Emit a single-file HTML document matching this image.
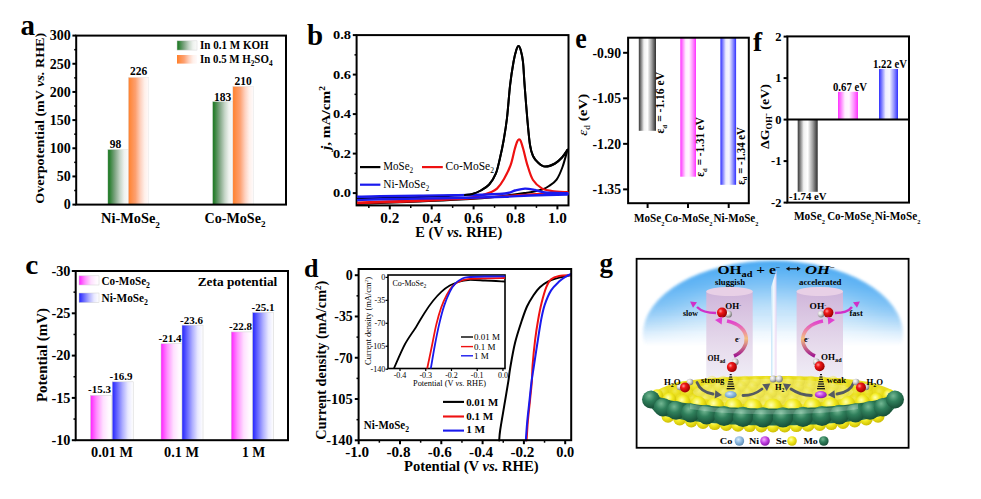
<!DOCTYPE html>
<html><head><meta charset="utf-8"><style>
html,body{margin:0;padding:0;background:#fff;width:981px;height:499px;overflow:hidden;}
svg{display:block;font-family:"Liberation Serif", serif;}
</style></head><body>
<svg width="981" height="499" viewBox="0 0 981 499" font-family="Liberation Serif">
<defs><linearGradient id="g1" x1="0" y1="0" x2="1" y2="0"><stop offset="0" stop-color="#1f7a25"/><stop offset="0.08" stop-color="#2a7f30"/><stop offset="0.35" stop-color="#7fa583"/><stop offset="0.6" stop-color="#c6d6c8"/><stop offset="0.8" stop-color="#eef2ee"/><stop offset="1" stop-color="#fafafa"/></linearGradient><linearGradient id="g2" x1="0" y1="0" x2="1" y2="0"><stop offset="0" stop-color="#ff7f2a"/><stop offset="0.1" stop-color="#ff8a40"/><stop offset="0.35" stop-color="#fda070"/><stop offset="0.6" stop-color="#fed2c0"/><stop offset="0.8" stop-color="#fff0ea"/><stop offset="1" stop-color="#fffafa"/></linearGradient><linearGradient id="g3" x1="0" y1="0" x2="1" y2="0"><stop offset="0" stop-color="#ff1fff"/><stop offset="0.3" stop-color="#ff90ff"/><stop offset="0.6" stop-color="#ffe0ff"/><stop offset="0.85" stop-color="#fff8ff"/><stop offset="1" stop-color="#ffffff"/></linearGradient><linearGradient id="g4" x1="0" y1="0" x2="1" y2="0"><stop offset="0" stop-color="#2222ff"/><stop offset="0.25" stop-color="#6a6aff"/><stop offset="0.5" stop-color="#b0b0ff"/><stop offset="0.75" stop-color="#e8e8ff"/><stop offset="1" stop-color="#ffffff"/></linearGradient><linearGradient id="g5" x1="0" y1="0" x2="1" y2="0"><stop offset="0" stop-color="#3a3a3a"/><stop offset="0.1" stop-color="#707070"/><stop offset="0.3" stop-color="#f0f0f0"/><stop offset="0.5" stop-color="#ffffff"/><stop offset="0.75" stop-color="#a0a0a0"/><stop offset="0.92" stop-color="#505050"/><stop offset="1" stop-color="#303030"/></linearGradient><linearGradient id="g6" x1="0" y1="0" x2="1" y2="0"><stop offset="0" stop-color="#ff30ff"/><stop offset="0.12" stop-color="#ff70ff"/><stop offset="0.35" stop-color="#fff0ff"/><stop offset="0.55" stop-color="#fff8ff"/><stop offset="0.8" stop-color="#ff90ff"/><stop offset="1" stop-color="#ff30ff"/></linearGradient><linearGradient id="g7" x1="0" y1="0" x2="1" y2="0"><stop offset="0" stop-color="#3030ff"/><stop offset="0.12" stop-color="#7070ff"/><stop offset="0.35" stop-color="#f0f0ff"/><stop offset="0.55" stop-color="#f8f8ff"/><stop offset="0.8" stop-color="#9090ff"/><stop offset="1" stop-color="#3030ff"/></linearGradient><linearGradient id="g8" x1="0" y1="0" x2="1" y2="0"><stop offset="0" stop-color="#3a3a3a"/><stop offset="0.1" stop-color="#707070"/><stop offset="0.3" stop-color="#f0f0f0"/><stop offset="0.5" stop-color="#ffffff"/><stop offset="0.75" stop-color="#a0a0a0"/><stop offset="0.92" stop-color="#505050"/><stop offset="1" stop-color="#303030"/></linearGradient><linearGradient id="g9" x1="0" y1="0" x2="1" y2="0"><stop offset="0" stop-color="#ff30ff"/><stop offset="0.12" stop-color="#ff70ff"/><stop offset="0.35" stop-color="#fff0ff"/><stop offset="0.55" stop-color="#fff8ff"/><stop offset="0.8" stop-color="#ff90ff"/><stop offset="1" stop-color="#ff30ff"/></linearGradient><linearGradient id="g10" x1="0" y1="0" x2="1" y2="0"><stop offset="0" stop-color="#3030ff"/><stop offset="0.12" stop-color="#7070ff"/><stop offset="0.35" stop-color="#f0f0ff"/><stop offset="0.55" stop-color="#f8f8ff"/><stop offset="0.8" stop-color="#9090ff"/><stop offset="1" stop-color="#3030ff"/></linearGradient><radialGradient id="dome" gradientUnits="userSpaceOnUse" cx="773" cy="336" r="128" gradientTransform="translate(773 336) scale(1 0.6) translate(-773 -336)"><stop offset="0" stop-color="#ffffff"/><stop offset="0.45" stop-color="#f4f9fe"/><stop offset="0.7" stop-color="#a9d6f7"/><stop offset="0.9" stop-color="#5cb2f2"/><stop offset="1" stop-color="#3fa2ee"/></radialGradient><linearGradient id="domefade" gradientUnits="userSpaceOnUse" x1="0" y1="300" x2="0" y2="345"><stop offset="0" stop-color="#fff" stop-opacity="1"/><stop offset="1" stop-color="#fff" stop-opacity="0"/></linearGradient><mask id="domemask"><rect x="600" y="250" width="350" height="150" fill="url(#domefade)"/></mask><linearGradient id="cyl" x1="0" y1="0" x2="0" y2="1"><stop offset="0" stop-color="#d8b2d6"/><stop offset="0.45" stop-color="#e0cfe6"/><stop offset="1" stop-color="#f0f0f8"/></linearGradient><linearGradient id="glass" x1="0" y1="0" x2="1" y2="0"><stop offset="0" stop-color="#bfe3f8"/><stop offset="0.5" stop-color="#ffffff"/><stop offset="1" stop-color="#e8d0f0"/></linearGradient><radialGradient id="red" cx="0.35" cy="0.35" r="0.65"><stop offset="0" stop-color="#ff9a9a"/><stop offset="0.35" stop-color="#f01818"/><stop offset="1" stop-color="#a00000"/></radialGradient><radialGradient id="gry" cx="0.35" cy="0.35" r="0.65"><stop offset="0" stop-color="#ffffff"/><stop offset="0.5" stop-color="#d0d0d0"/><stop offset="1" stop-color="#808080"/></radialGradient><radialGradient id="grn" cx="0.4" cy="0.3" r="0.7"><stop offset="0" stop-color="#74b894"/><stop offset="0.45" stop-color="#30805c"/><stop offset="1" stop-color="#174f37"/></radialGradient><radialGradient id="yel" cx="0.4" cy="0.35" r="0.7"><stop offset="0" stop-color="#ffffb0"/><stop offset="0.45" stop-color="#f2ea20"/><stop offset="1" stop-color="#c8b800"/></radialGradient><radialGradient id="cob" cx="0.4" cy="0.35" r="0.7"><stop offset="0" stop-color="#d8ecff"/><stop offset="0.5" stop-color="#8cb8de"/><stop offset="1" stop-color="#5a88b0"/></radialGradient><radialGradient id="nip" cx="0.4" cy="0.35" r="0.7"><stop offset="0" stop-color="#f4b0ff"/><stop offset="0.5" stop-color="#c040e0"/><stop offset="1" stop-color="#8010a0"/></radialGradient><linearGradient id="arcL" x1="0" y1="1" x2="0" y2="0"><stop offset="0" stop-color="#a01890"/><stop offset="0.5" stop-color="#f4c080"/><stop offset="1" stop-color="#e040d0"/></linearGradient><clipPath id="gclip"><rect x="637.4" y="259.6" width="270.4" height="187.4"/></clipPath><radialGradient id="domerad" gradientUnits="userSpaceOnUse" cx="773" cy="352" r="136" gradientTransform="translate(773 352) scale(1 0.67) translate(-773 -352)"><stop offset="0" stop-color="#ffffff"/><stop offset="0.45" stop-color="#f2f9fe"/><stop offset="0.7" stop-color="#a6d4f7"/><stop offset="0.88" stop-color="#5db2f2"/><stop offset="1" stop-color="#3a9ff0"/></radialGradient><linearGradient id="domefade2" gradientUnits="userSpaceOnUse" x1="0" y1="304" x2="0" y2="346"><stop offset="0" stop-color="#fff" stop-opacity="1"/><stop offset="1" stop-color="#fff" stop-opacity="0"/></linearGradient><mask id="domemask2"><rect x="600" y="250" width="350" height="150" fill="url(#domefade2)"/></mask><filter id="soft" x="-5%" y="-5%" width="110%" height="110%"><feGaussianBlur stdDeviation="1.8"/></filter><linearGradient id="domelin" gradientUnits="userSpaceOnUse" x1="0" y1="261" x2="0" y2="346"><stop offset="0" stop-color="#52aef4"/><stop offset="0.3" stop-color="#78c0f6"/><stop offset="0.58" stop-color="#b0daf9"/><stop offset="0.86" stop-color="#f0f8fe"/><stop offset="1" stop-color="#ffffff"/></linearGradient></defs>
<rect x="107.8" y="149.39333333333332" width="20.5" height="55.20666666666668" fill="url(#g1)" stroke="#e4e4e4" stroke-width="0.5"/>
<rect x="128.3" y="77.28666666666666" width="20.5" height="127.31333333333333" fill="url(#g2)" stroke="#e4e4e4" stroke-width="0.5"/>
<rect x="212.5" y="101.50999999999999" width="20.5" height="103.09" fill="url(#g1)" stroke="#e4e4e4" stroke-width="0.5"/>
<rect x="232.8" y="86.3" width="20.5" height="118.3" fill="url(#g2)" stroke="#e4e4e4" stroke-width="0.5"/>
<rect x="76.2" y="35.6" width="209.8" height="169.0" fill="none" stroke="#000" stroke-width="2"/>
<line x1="72.4" y1="204.6" x2="76.2" y2="204.6" stroke="#000" stroke-width="2" />
<text x="70.8" y="209.4" font-size="14" font-weight="bold" text-anchor="end" fill="#000" >0</text>
<line x1="72.4" y1="176.43333333333334" x2="76.2" y2="176.43333333333334" stroke="#000" stroke-width="2" />
<text x="70.8" y="181.23" font-size="14" font-weight="bold" text-anchor="end" fill="#000" >50</text>
<line x1="72.4" y1="148.26666666666665" x2="76.2" y2="148.26666666666665" stroke="#000" stroke-width="2" />
<text x="70.8" y="153.07" font-size="14" font-weight="bold" text-anchor="end" fill="#000" >100</text>
<line x1="72.4" y1="120.1" x2="76.2" y2="120.1" stroke="#000" stroke-width="2" />
<text x="70.8" y="124.9" font-size="14" font-weight="bold" text-anchor="end" fill="#000" >150</text>
<line x1="72.4" y1="91.93333333333332" x2="76.2" y2="91.93333333333332" stroke="#000" stroke-width="2" />
<text x="70.8" y="96.73" font-size="14" font-weight="bold" text-anchor="end" fill="#000" >200</text>
<line x1="72.4" y1="63.76666666666665" x2="76.2" y2="63.76666666666665" stroke="#000" stroke-width="2" />
<text x="70.8" y="68.57" font-size="14" font-weight="bold" text-anchor="end" fill="#000" >250</text>
<line x1="72.4" y1="35.599999999999994" x2="76.2" y2="35.599999999999994" stroke="#000" stroke-width="2" />
<text x="70.8" y="40.4" font-size="14" font-weight="bold" text-anchor="end" fill="#000" >300</text>
<line x1="74.2" y1="190.51666666666665" x2="76.2" y2="190.51666666666665" stroke="#000" stroke-width="1.5" />
<line x1="74.2" y1="162.35" x2="76.2" y2="162.35" stroke="#000" stroke-width="1.5" />
<line x1="74.2" y1="134.18333333333334" x2="76.2" y2="134.18333333333334" stroke="#000" stroke-width="1.5" />
<line x1="74.2" y1="106.01666666666665" x2="76.2" y2="106.01666666666665" stroke="#000" stroke-width="1.5" />
<line x1="74.2" y1="77.85" x2="76.2" y2="77.85" stroke="#000" stroke-width="1.5" />
<line x1="74.2" y1="49.68333333333331" x2="76.2" y2="49.68333333333331" stroke="#000" stroke-width="1.5" />
<text x="20.5" y="35" font-size="29" font-weight="bold" text-anchor="start" fill="#000" >a</text>
<text x="44" y="203.8" font-size="13" font-weight="bold" text-anchor="start" fill="#000" textLength="171" lengthAdjust="spacingAndGlyphs" transform="rotate(-90 44 203.8)" >Overpotential (mV <tspan font-style="italic">vs.</tspan> RHE)</text>
<rect x="177" y="40.8" width="20" height="9.3" fill="url(#g1)" stroke="#d8d8d8" stroke-width="0.5"/>
<rect x="177" y="55" width="20" height="8.6" fill="url(#g2)" />
<text x="200" y="49" font-size="12" font-weight="bold" text-anchor="start" fill="#000" textLength="68.7" lengthAdjust="spacingAndGlyphs" >In 0.1 M KOH</text>
<text x="200" y="62.5" font-size="12" font-weight="bold" text-anchor="start" fill="#000" textLength="72.5" lengthAdjust="spacingAndGlyphs" >In 0.5 M H<tspan dy="3" font-size="8">2</tspan><tspan dy="-3">SO</tspan><tspan dy="3" font-size="8">4</tspan></text>
<text x="115.5" y="148" font-size="11.5" font-weight="bold" text-anchor="middle" fill="#000" >98</text>
<text x="138.5" y="74.8" font-size="11.5" font-weight="bold" text-anchor="middle" fill="#000" >226</text>
<text x="222.5" y="100.5" font-size="11.5" font-weight="bold" text-anchor="middle" fill="#000" >183</text>
<text x="243" y="84.5" font-size="11.5" font-weight="bold" text-anchor="middle" fill="#000" >210</text>
<text x="101" y="223" font-size="14" font-weight="bold" text-anchor="start" fill="#000" textLength="59" lengthAdjust="spacingAndGlyphs" >Ni-MoSe<tspan dy="4.5" font-size="9">2</tspan></text>
<text x="204.5" y="222.5" font-size="14" font-weight="bold" text-anchor="start" fill="#000" textLength="61" lengthAdjust="spacingAndGlyphs" >Co-MoSe<tspan dy="4.5" font-size="9">2</tspan></text>
<rect x="356.6" y="35.1" width="211.89999999999998" height="170.3" fill="none" stroke="#000" stroke-width="2"/>
<line x1="352.8" y1="193.1" x2="356.6" y2="193.1" stroke="#000" stroke-width="2" />
<text x="351" y="197.0" font-size="13.5" font-weight="bold" text-anchor="end" fill="#000" textLength="18" lengthAdjust="spacingAndGlyphs" >0.0</text>
<line x1="352.8" y1="153.6" x2="356.6" y2="153.6" stroke="#000" stroke-width="2" />
<text x="351" y="157.5" font-size="13.5" font-weight="bold" text-anchor="end" fill="#000" textLength="18" lengthAdjust="spacingAndGlyphs" >0.2</text>
<line x1="352.8" y1="114.1" x2="356.6" y2="114.1" stroke="#000" stroke-width="2" />
<text x="351" y="118.0" font-size="13.5" font-weight="bold" text-anchor="end" fill="#000" textLength="18" lengthAdjust="spacingAndGlyphs" >0.4</text>
<line x1="352.8" y1="74.59999999999998" x2="356.6" y2="74.59999999999998" stroke="#000" stroke-width="2" />
<text x="351" y="78.5" font-size="13.5" font-weight="bold" text-anchor="end" fill="#000" textLength="18" lengthAdjust="spacingAndGlyphs" >0.6</text>
<line x1="352.8" y1="35.099999999999994" x2="356.6" y2="35.099999999999994" stroke="#000" stroke-width="2" />
<text x="351" y="39.0" font-size="13.5" font-weight="bold" text-anchor="end" fill="#000" textLength="18" lengthAdjust="spacingAndGlyphs" >0.8</text>
<line x1="354.5" y1="173.35" x2="356.6" y2="173.35" stroke="#000" stroke-width="1.5" />
<line x1="354.5" y1="133.85" x2="356.6" y2="133.85" stroke="#000" stroke-width="1.5" />
<line x1="354.5" y1="94.35" x2="356.6" y2="94.35" stroke="#000" stroke-width="1.5" />
<line x1="354.5" y1="54.849999999999994" x2="356.6" y2="54.849999999999994" stroke="#000" stroke-width="1.5" />
<line x1="389.8" y1="205.4" x2="389.8" y2="209.4" stroke="#000" stroke-width="2" />
<text x="389.8" y="222.7" font-size="14" font-weight="bold" text-anchor="middle" fill="#000" textLength="19" lengthAdjust="spacingAndGlyphs" >0.2</text>
<line x1="431.70000000000005" y1="205.4" x2="431.70000000000005" y2="209.4" stroke="#000" stroke-width="2" />
<text x="431.70000000000005" y="222.7" font-size="14" font-weight="bold" text-anchor="middle" fill="#000" textLength="19" lengthAdjust="spacingAndGlyphs" >0.4</text>
<line x1="473.6" y1="205.4" x2="473.6" y2="209.4" stroke="#000" stroke-width="2" />
<text x="473.6" y="222.7" font-size="14" font-weight="bold" text-anchor="middle" fill="#000" textLength="19" lengthAdjust="spacingAndGlyphs" >0.6</text>
<line x1="515.5" y1="205.4" x2="515.5" y2="209.4" stroke="#000" stroke-width="2" />
<text x="515.5" y="222.7" font-size="14" font-weight="bold" text-anchor="middle" fill="#000" textLength="19" lengthAdjust="spacingAndGlyphs" >0.8</text>
<line x1="557.4000000000001" y1="205.4" x2="557.4000000000001" y2="209.4" stroke="#000" stroke-width="2" />
<text x="557.4000000000001" y="222.7" font-size="14" font-weight="bold" text-anchor="middle" fill="#000" textLength="19" lengthAdjust="spacingAndGlyphs" >1.0</text>
<line x1="368.85" y1="205.4" x2="368.85" y2="207.9" stroke="#000" stroke-width="1.5" />
<line x1="410.75" y1="205.4" x2="410.75" y2="207.9" stroke="#000" stroke-width="1.5" />
<line x1="452.65" y1="205.4" x2="452.65" y2="207.9" stroke="#000" stroke-width="1.5" />
<line x1="494.55" y1="205.4" x2="494.55" y2="207.9" stroke="#000" stroke-width="1.5" />
<line x1="536.45" y1="205.4" x2="536.45" y2="207.9" stroke="#000" stroke-width="1.5" />
<text x="415.2" y="237.2" font-size="14" font-weight="bold" text-anchor="start" fill="#000" textLength="87" lengthAdjust="spacingAndGlyphs" >E (V <tspan font-style="italic">vs.</tspan> RHE)</text>
<text x="329.5" y="150" font-size="13" font-weight="bold" text-anchor="start" fill="#000" textLength="64" lengthAdjust="spacingAndGlyphs" transform="rotate(-90 329.5 150)" ><tspan font-style="italic">j</tspan>, mA/cm<tspan dy="-5" font-size="8">2</tspan></text>
<text x="307" y="45" font-size="29" font-weight="bold" text-anchor="start" fill="#000" >b</text>
<path d="M567.50,149.80 C566.67,152.67 564.32,162.03 562.50,167.00 C560.68,171.97 558.85,176.43 556.60,179.60 C554.35,182.77 551.40,184.35 549.00,186.00 C546.60,187.65 544.87,188.53 542.20,189.50 C539.53,190.47 536.00,191.20 533.00,191.80 C530.00,192.40 528.03,192.57 524.20,193.10 C520.37,193.63 514.53,194.40 510.00,195.00 C505.47,195.60 503.67,196.03 497.00,196.70 C490.33,197.37 482.83,198.20 470.00,199.00 C457.17,199.80 435.00,200.83 420.00,201.50 C405.00,202.17 390.33,202.58 380.00,203.00 C369.67,203.42 361.67,203.83 358.00,204.00" fill="none" stroke="#000" stroke-width="2" stroke-linejoin="round" stroke-linecap="round"/>
<path d="M358.00,198.50 C365.00,198.33 386.33,197.88 400.00,197.50 C413.67,197.12 429.17,196.62 440.00,196.20 C450.83,195.78 459.60,195.37 465.00,195.00 C470.40,194.63 469.77,194.75 472.40,194.00 C475.03,193.25 478.00,192.08 480.80,190.50 C483.60,188.92 486.70,187.30 489.20,184.50 C491.70,181.70 494.00,178.12 495.80,173.70 C497.60,169.28 498.68,163.62 500.00,158.00 C501.32,152.38 502.53,146.67 503.70,140.00 C504.87,133.33 505.93,127.15 507.00,118.00 C508.07,108.85 509.02,94.43 510.10,85.10 C511.18,75.77 512.47,67.85 513.50,62.00 C514.53,56.15 515.47,52.67 516.30,50.00 C517.13,47.33 517.77,46.00 518.50,46.00 C519.23,46.00 519.95,47.33 520.70,50.00 C521.45,52.67 522.35,56.15 523.00,62.00 C523.65,67.85 523.87,75.43 524.60,85.10 C525.33,94.77 526.50,110.02 527.40,120.00 C528.30,129.98 529.07,139.00 530.00,145.00 C530.93,151.00 531.67,153.08 533.00,156.00 C534.33,158.92 536.00,160.73 538.00,162.50 C540.00,164.27 542.17,166.43 545.00,166.60 C547.83,166.77 552.17,165.02 555.00,163.50 C557.83,161.98 559.92,159.78 562.00,157.50 C564.08,155.22 566.58,151.08 567.50,149.80" fill="none" stroke="#000" stroke-width="2" stroke-linejoin="round" stroke-linecap="round"/>
<path d="M567.50,192.80 C562.92,192.97 551.25,193.18 540.00,193.80 C528.75,194.42 515.00,195.55 500.00,196.50 C485.00,197.45 466.67,198.62 450.00,199.50 C433.33,200.38 415.33,201.18 400.00,201.80 C384.67,202.42 365.00,202.97 358.00,203.20" fill="none" stroke="#ee1111" stroke-width="2.2" stroke-linejoin="round" stroke-linecap="round"/>
<path d="M358.00,202.50 C365.00,202.25 384.67,201.58 400.00,201.00 C415.33,200.42 438.33,199.58 450.00,199.00 C461.67,198.42 464.83,198.08 470.00,197.50 C475.17,196.92 477.67,196.33 481.00,195.50 C484.33,194.67 487.33,193.65 490.00,192.50 C492.67,191.35 494.67,190.85 497.00,188.60 C499.33,186.35 501.73,182.92 504.00,179.00 C506.27,175.08 508.85,169.93 510.60,165.10 C512.35,160.27 513.43,153.85 514.50,150.00 C515.57,146.15 516.30,143.75 517.00,142.00 C517.70,140.25 518.08,139.67 518.70,139.50 C519.32,139.33 519.90,139.25 520.70,141.00 C521.50,142.75 522.38,145.98 523.50,150.00 C524.62,154.02 525.82,160.10 527.40,165.10 C528.98,170.10 530.53,176.08 533.00,180.00 C535.47,183.92 539.03,186.77 542.20,188.60 C545.37,190.43 547.78,190.40 552.00,191.00 C556.22,191.60 564.92,192.00 567.50,192.20" fill="none" stroke="#ee1111" stroke-width="2.2" stroke-linejoin="round" stroke-linecap="round"/>
<path d="M567.50,194.50 C561.25,194.67 540.42,195.12 530.00,195.50 C519.58,195.88 515.00,196.42 505.00,196.80 C495.00,197.18 484.17,197.52 470.00,197.80 C455.83,198.08 435.00,198.27 420.00,198.50 C405.00,198.73 390.33,198.95 380.00,199.20 C369.67,199.45 361.67,199.87 358.00,200.00" fill="none" stroke="#1a1aee" stroke-width="2.4" stroke-linejoin="round" stroke-linecap="round"/>
<path d="M358.00,196.80 C361.67,196.70 369.67,196.40 380.00,196.20 C390.33,196.00 405.00,195.80 420.00,195.60 C435.00,195.40 455.83,195.35 470.00,195.00 C484.17,194.65 497.50,194.25 505.00,193.50 C512.50,192.75 511.67,191.32 515.00,190.50 C518.33,189.68 521.67,188.68 525.00,188.60 C528.33,188.52 531.67,189.35 535.00,190.00 C538.33,190.65 539.58,191.95 545.00,192.50 C550.42,193.05 563.75,193.17 567.50,193.30" fill="none" stroke="#1a1aee" stroke-width="2.4" stroke-linejoin="round" stroke-linecap="round"/>
<path d="M465.00,195.00 C466.23,194.83 469.77,194.75 472.40,194.00 C475.03,193.25 478.00,192.08 480.80,190.50 C483.60,188.92 486.70,187.30 489.20,184.50 C491.70,181.70 494.00,178.12 495.80,173.70 C497.60,169.28 498.68,163.62 500.00,158.00 C501.32,152.38 502.53,146.67 503.70,140.00 C504.87,133.33 505.93,127.15 507.00,118.00 C508.07,108.85 509.02,94.43 510.10,85.10 C511.18,75.77 512.47,67.85 513.50,62.00 C514.53,56.15 515.47,52.67 516.30,50.00 C517.13,47.33 517.77,46.00 518.50,46.00 C519.23,46.00 519.95,47.33 520.70,50.00 C521.45,52.67 522.35,56.15 523.00,62.00 C523.65,67.85 523.87,75.43 524.60,85.10 C525.33,94.77 526.50,110.02 527.40,120.00 C528.30,129.98 529.07,139.00 530.00,145.00 C530.93,151.00 531.67,153.08 533.00,156.00 C534.33,158.92 536.00,160.73 538.00,162.50 C540.00,164.27 542.17,166.43 545.00,166.60 C547.83,166.77 552.17,165.02 555.00,163.50 C557.83,161.98 559.92,159.78 562.00,157.50 C564.08,155.22 566.58,151.08 567.50,149.80" fill="none" stroke="#000" stroke-width="2" stroke-linejoin="round" stroke-linecap="round"/>
<line x1="360" y1="167.1" x2="380.4" y2="167.1" stroke="#000" stroke-width="2.2" />
<text x="383.3" y="170" font-size="12" font-weight="normal" text-anchor="start" fill="#000" textLength="29.9" lengthAdjust="spacingAndGlyphs" >MoSe<tspan dy="3" font-size="8">2</tspan></text>
<line x1="422" y1="167.1" x2="442.8" y2="167.1" stroke="#ee1111" stroke-width="2.2" />
<text x="445.6" y="170" font-size="12" font-weight="normal" text-anchor="start" fill="#000" textLength="48.4" lengthAdjust="spacingAndGlyphs" >Co-MoSe<tspan dy="3" font-size="8">2</tspan></text>
<line x1="360" y1="184.7" x2="380.4" y2="184.7" stroke="#1a1aee" stroke-width="2.2" />
<text x="383.3" y="187.5" font-size="12" font-weight="normal" text-anchor="start" fill="#000" textLength="45.9" lengthAdjust="spacingAndGlyphs" >Ni-MoSe<tspan dy="3" font-size="8">2</tspan></text>
<rect x="90.5" y="395.36199999999997" width="21" height="44.83800000000002" fill="url(#g3)" stroke="#d0d0d0" stroke-width="0.5"/>
<rect x="112.2" y="381.826" width="21" height="58.37399999999997" fill="url(#g4)" stroke="#d0d0d0" stroke-width="0.5"/>
<rect x="161" y="343.75600000000003" width="21" height="96.44399999999996" fill="url(#g3)" stroke="#d0d0d0" stroke-width="0.5"/>
<rect x="182" y="325.144" width="21" height="115.05599999999998" fill="url(#g4)" stroke="#d0d0d0" stroke-width="0.5"/>
<rect x="231.2" y="331.912" width="21" height="108.28800000000001" fill="url(#g3)" stroke="#d0d0d0" stroke-width="0.5"/>
<rect x="252.6" y="312.454" width="21" height="127.74599999999998" fill="url(#g4)" stroke="#d0d0d0" stroke-width="0.5"/>
<rect x="75.7" y="271" width="212.3" height="169.2" fill="none" stroke="#000" stroke-width="2"/>
<line x1="71.8" y1="271.0" x2="75.7" y2="271.0" stroke="#000" stroke-width="2" />
<text x="70.5" y="275.8" font-size="14" font-weight="bold" text-anchor="end" fill="#000" textLength="19" lengthAdjust="spacingAndGlyphs" >-30</text>
<line x1="71.8" y1="313.3" x2="75.7" y2="313.3" stroke="#000" stroke-width="2" />
<text x="70.5" y="318.1" font-size="14" font-weight="bold" text-anchor="end" fill="#000" textLength="19" lengthAdjust="spacingAndGlyphs" >-25</text>
<line x1="71.8" y1="355.6" x2="75.7" y2="355.6" stroke="#000" stroke-width="2" />
<text x="70.5" y="360.4" font-size="14" font-weight="bold" text-anchor="end" fill="#000" textLength="19" lengthAdjust="spacingAndGlyphs" >-20</text>
<line x1="71.8" y1="397.9" x2="75.7" y2="397.9" stroke="#000" stroke-width="2" />
<text x="70.5" y="402.7" font-size="14" font-weight="bold" text-anchor="end" fill="#000" textLength="19" lengthAdjust="spacingAndGlyphs" >-15</text>
<line x1="71.8" y1="440.2" x2="75.7" y2="440.2" stroke="#000" stroke-width="2" />
<text x="70.5" y="445.0" font-size="14" font-weight="bold" text-anchor="end" fill="#000" textLength="19" lengthAdjust="spacingAndGlyphs" >-10</text>
<line x1="73.5" y1="292.15" x2="75.7" y2="292.15" stroke="#000" stroke-width="1.5" />
<line x1="73.5" y1="334.45" x2="75.7" y2="334.45" stroke="#000" stroke-width="1.5" />
<line x1="73.5" y1="376.75" x2="75.7" y2="376.75" stroke="#000" stroke-width="1.5" />
<line x1="73.5" y1="419.04999999999995" x2="75.7" y2="419.04999999999995" stroke="#000" stroke-width="1.5" />
<text x="25.2" y="273.8" font-size="27" font-weight="bold" text-anchor="start" fill="#000" textLength="13" lengthAdjust="spacingAndGlyphs" >c</text>
<text x="47.2" y="402" font-size="14" font-weight="bold" text-anchor="start" fill="#000" textLength="94" lengthAdjust="spacingAndGlyphs" transform="rotate(-90 47.2 402)" >Potential (mV)</text>
<rect x="79" y="275.8" width="20" height="9.2" fill="url(#g3)" stroke="#d0d0d0" stroke-width="0.5"/>
<rect x="79" y="293" width="20" height="9.6" fill="url(#g4)" stroke="#d0d0d0" stroke-width="0.5"/>
<text x="101.5" y="284.7" font-size="11.5" font-weight="bold" text-anchor="start" fill="#000" textLength="48.5" lengthAdjust="spacingAndGlyphs" >Co-MoSe<tspan dy="3.5" font-size="8">2</tspan></text>
<text x="101.5" y="301.8" font-size="11.5" font-weight="bold" text-anchor="start" fill="#000" textLength="46.5" lengthAdjust="spacingAndGlyphs" >Ni-MoSe<tspan dy="3.5" font-size="8">2</tspan></text>
<text x="197.7" y="285.7" font-size="13" font-weight="bold" text-anchor="start" fill="#000" textLength="79.6" lengthAdjust="spacingAndGlyphs" >Zeta potential</text>
<text x="99.5" y="393.4" font-size="11" font-weight="bold" text-anchor="middle" fill="#000" textLength="23" lengthAdjust="spacingAndGlyphs" >-15.3</text>
<text x="121" y="380" font-size="11" font-weight="bold" text-anchor="middle" fill="#000" textLength="23" lengthAdjust="spacingAndGlyphs" >-16.9</text>
<text x="170" y="342" font-size="11" font-weight="bold" text-anchor="middle" fill="#000" textLength="23" lengthAdjust="spacingAndGlyphs" >-21.4</text>
<text x="191.5" y="323.7" font-size="11" font-weight="bold" text-anchor="middle" fill="#000" textLength="23" lengthAdjust="spacingAndGlyphs" >-23.6</text>
<text x="240.5" y="330" font-size="11" font-weight="bold" text-anchor="middle" fill="#000" textLength="23" lengthAdjust="spacingAndGlyphs" >-22.8</text>
<text x="263" y="311" font-size="11" font-weight="bold" text-anchor="middle" fill="#000" textLength="23" lengthAdjust="spacingAndGlyphs" >-25.1</text>
<text x="91" y="457" font-size="14.5" font-weight="bold" text-anchor="start" fill="#000" textLength="42" lengthAdjust="spacingAndGlyphs" >0.01 M</text>
<text x="164" y="457" font-size="14.5" font-weight="bold" text-anchor="start" fill="#000" textLength="35" lengthAdjust="spacingAndGlyphs" >0.1 M</text>
<text x="242" y="457" font-size="14.5" font-weight="bold" text-anchor="start" fill="#000" textLength="23.3" lengthAdjust="spacingAndGlyphs" >1 M</text>
<path d="M499.20,440.50 C499.37,438.75 499.35,435.85 500.20,430.00 C501.05,424.15 502.93,413.58 504.30,405.40 C505.67,397.22 507.42,387.13 508.40,380.90 C509.38,374.67 509.10,374.32 510.20,368.00 C511.30,361.68 513.03,351.00 515.00,343.00 C516.97,335.00 520.00,326.08 522.00,320.00 C524.00,313.92 525.08,310.63 527.00,306.50 C528.92,302.37 531.35,298.42 533.50,295.20 C535.65,291.98 537.50,289.47 539.90,287.20 C542.30,284.93 544.70,283.20 547.90,281.60 C551.10,280.00 555.25,278.70 559.10,277.60 C562.95,276.50 569.02,275.43 571.00,275.00" fill="none" stroke="#000" stroke-width="2" stroke-linejoin="round" stroke-linecap="round"/>
<path d="M526.60,440.50 C526.80,437.38 527.25,428.33 527.80,421.80 C528.35,415.27 529.22,408.12 529.90,401.30 C530.58,394.48 531.45,386.95 531.90,380.90 C532.35,374.85 532.07,371.82 532.60,365.00 C533.13,358.18 534.18,347.50 535.10,340.00 C536.02,332.50 537.03,326.12 538.10,320.00 C539.17,313.88 540.13,308.77 541.50,303.30 C542.87,297.83 544.70,291.22 546.30,287.20 C547.90,283.18 548.97,281.08 551.10,279.20 C553.23,277.32 555.78,276.57 559.10,275.90 C562.42,275.23 569.02,275.32 571.00,275.20" fill="none" stroke="#ee1111" stroke-width="2" stroke-linejoin="round" stroke-linecap="round"/>
<path d="M525.80,440.50 C526.03,437.38 526.60,428.33 527.20,421.80 C527.80,415.27 528.67,408.12 529.40,401.30 C530.13,394.48 530.90,386.45 531.60,380.90 C532.30,375.35 532.68,373.98 533.60,368.00 C534.52,362.02 535.85,353.00 537.10,345.00 C538.35,337.00 539.83,326.68 541.10,320.00 C542.37,313.32 543.03,309.83 544.70,304.90 C546.37,299.97 548.70,294.28 551.10,290.40 C553.50,286.52 556.70,283.87 559.10,281.60 C561.50,279.33 563.52,278.07 565.50,276.80 C567.48,275.53 570.08,274.47 571.00,274.00" fill="none" stroke="#1a1aee" stroke-width="2" stroke-linejoin="round" stroke-linecap="round"/>
<rect x="358.6" y="269" width="212.60000000000002" height="171.2" fill="none" stroke="#000" stroke-width="2"/>
<line x1="354.8" y1="275.2" x2="358.6" y2="275.2" stroke="#000" stroke-width="2" />
<text x="352.8" y="280.2" font-size="14.5" font-weight="bold" text-anchor="end" fill="#000" textLength="7" lengthAdjust="spacingAndGlyphs" >0</text>
<line x1="354.8" y1="316.475" x2="358.6" y2="316.475" stroke="#000" stroke-width="2" />
<text x="352.8" y="321.48" font-size="14.5" font-weight="bold" text-anchor="end" fill="#000" textLength="18.5" lengthAdjust="spacingAndGlyphs" >-35</text>
<line x1="354.8" y1="357.75" x2="358.6" y2="357.75" stroke="#000" stroke-width="2" />
<text x="352.8" y="362.75" font-size="14.5" font-weight="bold" text-anchor="end" fill="#000" textLength="18.5" lengthAdjust="spacingAndGlyphs" >-70</text>
<line x1="354.8" y1="399.025" x2="358.6" y2="399.025" stroke="#000" stroke-width="2" />
<text x="352.8" y="404.02" font-size="14.5" font-weight="bold" text-anchor="end" fill="#000" textLength="26.5" lengthAdjust="spacingAndGlyphs" >-105</text>
<line x1="354.8" y1="440.3" x2="358.6" y2="440.3" stroke="#000" stroke-width="2" />
<text x="352.8" y="445.3" font-size="14.5" font-weight="bold" text-anchor="end" fill="#000" textLength="26.5" lengthAdjust="spacingAndGlyphs" >-140</text>
<line x1="356.5" y1="295.8375" x2="358.6" y2="295.8375" stroke="#000" stroke-width="1.5" />
<line x1="356.5" y1="337.1125" x2="358.6" y2="337.1125" stroke="#000" stroke-width="1.5" />
<line x1="356.5" y1="378.3875" x2="358.6" y2="378.3875" stroke="#000" stroke-width="1.5" />
<line x1="356.5" y1="419.6625" x2="358.6" y2="419.6625" stroke="#000" stroke-width="1.5" />
<line x1="358.7" y1="440.2" x2="358.7" y2="444.2" stroke="#000" stroke-width="2" />
<text x="357.2" y="457" font-size="14" font-weight="bold" text-anchor="middle" fill="#000" textLength="24" lengthAdjust="spacingAndGlyphs" >-1.0</text>
<line x1="400.0" y1="440.2" x2="400.0" y2="444.2" stroke="#000" stroke-width="2" />
<text x="398.5" y="457" font-size="14" font-weight="bold" text-anchor="middle" fill="#000" textLength="24" lengthAdjust="spacingAndGlyphs" >-0.8</text>
<line x1="441.3" y1="440.2" x2="441.3" y2="444.2" stroke="#000" stroke-width="2" />
<text x="439.8" y="457" font-size="14" font-weight="bold" text-anchor="middle" fill="#000" textLength="24" lengthAdjust="spacingAndGlyphs" >-0.6</text>
<line x1="482.6" y1="440.2" x2="482.6" y2="444.2" stroke="#000" stroke-width="2" />
<text x="481.1" y="457" font-size="14" font-weight="bold" text-anchor="middle" fill="#000" textLength="24" lengthAdjust="spacingAndGlyphs" >-0.4</text>
<line x1="523.9000000000001" y1="440.2" x2="523.9000000000001" y2="444.2" stroke="#000" stroke-width="2" />
<text x="522.4000000000001" y="457" font-size="14" font-weight="bold" text-anchor="middle" fill="#000" textLength="24" lengthAdjust="spacingAndGlyphs" >-0.2</text>
<line x1="565.2" y1="440.2" x2="565.2" y2="444.2" stroke="#000" stroke-width="2" />
<text x="565.2" y="457" font-size="14" font-weight="bold" text-anchor="middle" fill="#000" textLength="18" lengthAdjust="spacingAndGlyphs" >0.0</text>
<line x1="379.35" y1="440.2" x2="379.35" y2="442.7" stroke="#000" stroke-width="1.5" />
<line x1="420.65" y1="440.2" x2="420.65" y2="442.7" stroke="#000" stroke-width="1.5" />
<line x1="461.95000000000005" y1="440.2" x2="461.95000000000005" y2="442.7" stroke="#000" stroke-width="1.5" />
<line x1="503.25000000000006" y1="440.2" x2="503.25000000000006" y2="442.7" stroke="#000" stroke-width="1.5" />
<line x1="544.5500000000001" y1="440.2" x2="544.5500000000001" y2="442.7" stroke="#000" stroke-width="1.5" />
<text x="404" y="470.7" font-size="14.5" font-weight="bold" text-anchor="start" fill="#000" textLength="134.6" lengthAdjust="spacingAndGlyphs" >Potential (V <tspan font-style="italic">vs.</tspan> RHE)</text>
<text x="326" y="439.7" font-size="14.5" font-weight="bold" text-anchor="start" fill="#000" textLength="159" lengthAdjust="spacingAndGlyphs" transform="rotate(-90 326 439.7)" >Current density (mA/cm<tspan dy="-5" font-size="9">2</tspan><tspan dy="5">)</tspan></text>
<text x="304" y="276.6" font-size="26" font-weight="bold" text-anchor="start" fill="#000" >d</text>
<text x="363.8" y="429.4" font-size="11.5" font-weight="bold" text-anchor="start" fill="#000" textLength="45.2" lengthAdjust="spacingAndGlyphs" >Ni-MoSe<tspan dy="3" font-size="8">2</tspan></text>
<line x1="443" y1="401.9" x2="464" y2="401.9" stroke="#000" stroke-width="2.1" />
<text x="466.2" y="405.6" font-size="11" font-weight="bold" text-anchor="start" fill="#000" textLength="32" lengthAdjust="spacingAndGlyphs" >0.01 M</text>
<line x1="443" y1="416.5" x2="464" y2="416.5" stroke="#ee1111" stroke-width="2.1" />
<text x="466.2" y="420.2" font-size="11" font-weight="bold" text-anchor="start" fill="#000" textLength="27" lengthAdjust="spacingAndGlyphs" >0.1 M</text>
<line x1="443" y1="430.6" x2="464" y2="430.6" stroke="#1a1aee" stroke-width="2.1" />
<text x="466.2" y="432.5" font-size="11" font-weight="bold" text-anchor="start" fill="#000" textLength="19" lengthAdjust="spacingAndGlyphs" >1 M</text>
<rect x="388" y="275" width="117" height="93.5" fill="#fff" stroke="#000" stroke-width="1.6"/>
<clipPath id="ic"><rect x="388" y="275" width="117" height="93.5"/></clipPath>
<g clip-path="url(#ic)">
<path d="M393.90,368.50 C395.72,364.50 401.10,351.43 404.80,344.50 C408.50,337.57 412.82,332.17 416.10,326.90 C419.38,321.63 421.70,317.22 424.50,312.90 C427.30,308.58 430.10,304.52 432.90,301.00 C435.70,297.48 438.48,294.38 441.30,291.80 C444.12,289.22 446.98,287.13 449.80,285.50 C452.62,283.87 455.17,282.92 458.20,282.00 C461.23,281.08 463.53,280.25 468.00,280.00 C472.47,279.75 478.92,280.25 485.00,280.50 C491.08,280.75 501.25,281.33 504.50,281.50" fill="none" stroke="#000" stroke-width="1.8" stroke-linejoin="round" stroke-linecap="round"/>
<path d="M427.20,368.50 C428.03,364.50 430.67,351.90 432.20,344.50 C433.73,337.10 434.88,330.30 436.40,324.10 C437.92,317.90 439.55,312.22 441.30,307.30 C443.05,302.38 445.02,298.12 446.90,294.60 C448.78,291.08 450.72,288.30 452.60,286.20 C454.48,284.10 455.63,283.17 458.20,282.00 C460.77,280.83 463.53,279.82 468.00,279.20 C472.47,278.58 478.92,278.50 485.00,278.30 C491.08,278.10 501.25,278.05 504.50,278.00" fill="none" stroke="#ee1111" stroke-width="1.8" stroke-linejoin="round" stroke-linecap="round"/>
<path d="M430.80,368.50 C431.50,364.50 433.60,351.90 435.00,344.50 C436.40,337.10 437.68,330.53 439.20,324.10 C440.72,317.67 442.33,311.28 444.10,305.90 C445.87,300.52 447.92,295.55 449.80,291.80 C451.68,288.05 453.30,285.62 455.40,283.40 C457.50,281.18 460.30,279.55 462.40,278.50 C464.50,277.45 464.23,277.43 468.00,277.10 C471.77,276.77 478.92,276.63 485.00,276.50 C491.08,276.37 501.25,276.33 504.50,276.30" fill="none" stroke="#1a1aee" stroke-width="1.8" stroke-linejoin="round" stroke-linecap="round"/>
</g>
<line x1="385.5" y1="277.4" x2="388" y2="277.4" stroke="#000" stroke-width="1.2" />
<text x="385.2" y="280.2" font-size="8" font-weight="normal" text-anchor="end" fill="#000" >0</text>
<line x1="385.5" y1="300.34999999999997" x2="388" y2="300.34999999999997" stroke="#000" stroke-width="1.2" />
<text x="385.2" y="303.15" font-size="8" font-weight="normal" text-anchor="end" fill="#000" >-35</text>
<line x1="385.5" y1="323.29999999999995" x2="388" y2="323.29999999999995" stroke="#000" stroke-width="1.2" />
<text x="385.2" y="326.1" font-size="8" font-weight="normal" text-anchor="end" fill="#000" >-70</text>
<line x1="385.5" y1="346.25" x2="388" y2="346.25" stroke="#000" stroke-width="1.2" />
<text x="385.2" y="349.05" font-size="8" font-weight="normal" text-anchor="end" fill="#000" >-105</text>
<line x1="385.5" y1="369.2" x2="388" y2="369.2" stroke="#000" stroke-width="1.2" />
<text x="385.2" y="372.0" font-size="8" font-weight="normal" text-anchor="end" fill="#000" >-140</text>
<line x1="400.0" y1="368.5" x2="400.0" y2="371.0" stroke="#000" stroke-width="1.2" />
<text x="400.0" y="378" font-size="8" font-weight="normal" text-anchor="middle" fill="#000" >-0.4</text>
<line x1="425.73333333333335" y1="368.5" x2="425.73333333333335" y2="371.0" stroke="#000" stroke-width="1.2" />
<text x="425.73333333333335" y="378" font-size="8" font-weight="normal" text-anchor="middle" fill="#000" >-0.3</text>
<line x1="451.4666666666667" y1="368.5" x2="451.4666666666667" y2="371.0" stroke="#000" stroke-width="1.2" />
<text x="451.4666666666667" y="378" font-size="8" font-weight="normal" text-anchor="middle" fill="#000" >-0.2</text>
<line x1="477.2" y1="368.5" x2="477.2" y2="371.0" stroke="#000" stroke-width="1.2" />
<text x="477.2" y="378" font-size="8" font-weight="normal" text-anchor="middle" fill="#000" >-0.1</text>
<line x1="502.93333333333334" y1="368.5" x2="502.93333333333334" y2="371.0" stroke="#000" stroke-width="1.2" />
<text x="502.93333333333334" y="378" font-size="8" font-weight="normal" text-anchor="middle" fill="#000" >0.0</text>
<text x="413" y="386" font-size="8" font-weight="normal" text-anchor="start" fill="#000" textLength="73" lengthAdjust="spacingAndGlyphs" >Potential (V <tspan font-style="italic">vs.</tspan> RHE)</text>
<text x="370.8" y="365" font-size="8" font-weight="normal" text-anchor="start" fill="#000" textLength="88" lengthAdjust="spacingAndGlyphs" transform="rotate(-90 370.8 365)" >Current density (mA/cm<tspan dy="-3" font-size="5">2</tspan><tspan dy="3">)</tspan></text>
<text x="392.4" y="286" font-size="8.5" font-weight="normal" text-anchor="start" fill="#000" textLength="34" lengthAdjust="spacingAndGlyphs" >Co-MoSe<tspan dy="2" font-size="6">2</tspan></text>
<line x1="461" y1="337" x2="473" y2="337" stroke="#000" stroke-width="1.4" />
<text x="474" y="340" font-size="9" font-weight="normal" text-anchor="start" fill="#000" >0.01 M</text>
<line x1="461" y1="346.6" x2="473" y2="346.6" stroke="#ee1111" stroke-width="1.4" />
<text x="474" y="349.6" font-size="9" font-weight="normal" text-anchor="start" fill="#000" >0.1 M</text>
<line x1="461" y1="355.8" x2="473" y2="355.8" stroke="#1a1aee" stroke-width="1.4" />
<text x="474" y="358.8" font-size="9" font-weight="normal" text-anchor="start" fill="#000" >1 M</text>
<rect x="638.8" y="37.7" width="17.200000000000045" height="93.10000000000001" fill="url(#g5)" />
<rect x="680.3" y="37.7" width="15.700000000000045" height="139.0" fill="url(#g6)" />
<rect x="720.4" y="37.7" width="15.700000000000045" height="147.10000000000002" fill="url(#g7)" />
<rect x="628.1" y="37.7" width="120.69999999999993" height="165.5" fill="none" stroke="#000" stroke-width="2"/>
<line x1="623.1" y1="52.8" x2="628.1" y2="52.8" stroke="#000" stroke-width="2" />
<text x="621" y="57.5" font-size="14" font-weight="bold" text-anchor="end" fill="#000" textLength="28.5" lengthAdjust="spacingAndGlyphs" >-0.90</text>
<line x1="623.1" y1="98.325" x2="628.1" y2="98.325" stroke="#000" stroke-width="2" />
<text x="621" y="103.03" font-size="14" font-weight="bold" text-anchor="end" fill="#000" textLength="28.5" lengthAdjust="spacingAndGlyphs" >-1.05</text>
<line x1="623.1" y1="143.84999999999997" x2="628.1" y2="143.84999999999997" stroke="#000" stroke-width="2" />
<text x="621" y="148.55" font-size="14" font-weight="bold" text-anchor="end" fill="#000" textLength="28.5" lengthAdjust="spacingAndGlyphs" >-1.20</text>
<line x1="623.1" y1="189.375" x2="628.1" y2="189.375" stroke="#000" stroke-width="2" />
<text x="621" y="194.07" font-size="14" font-weight="bold" text-anchor="end" fill="#000" textLength="28.5" lengthAdjust="spacingAndGlyphs" >-1.35</text>
<line x1="647.6" y1="203.2" x2="647.6" y2="208" stroke="#000" stroke-width="2" />
<line x1="688" y1="203.2" x2="688" y2="208" stroke="#000" stroke-width="2" />
<line x1="728.7" y1="203.2" x2="728.7" y2="208" stroke="#000" stroke-width="2" />
<text x="575.3" y="47.5" font-size="30" font-weight="bold" text-anchor="start" fill="#000" textLength="11.5" lengthAdjust="spacingAndGlyphs" >e</text>
<text x="587.2" y="135.7" font-size="13" font-weight="bold" text-anchor="start" fill="#000" textLength="42" lengthAdjust="spacingAndGlyphs" transform="rotate(-90 587.2 135.7)" ><tspan font-weight="normal" font-style="italic">ε</tspan><tspan dy="3" font-size="8" font-weight="normal">d</tspan><tspan dy="-3"> (eV)</tspan></text>
<text x="664.4" y="133.6" font-size="11.5" font-weight="bold" text-anchor="start" fill="#000" textLength="61.6" lengthAdjust="spacingAndGlyphs" transform="rotate(-90 664.4 133.6)" >ε<tspan dy="2.5" font-size="7">d</tspan><tspan dy="-2.5"> = -1.16 eV</tspan></text>
<text x="704.2" y="176.7" font-size="11.5" font-weight="bold" text-anchor="start" fill="#000" textLength="59.6" lengthAdjust="spacingAndGlyphs" transform="rotate(-90 704.2 176.7)" >ε<tspan dy="2.5" font-size="7">d</tspan><tspan dy="-2.5"> = -1.31 eV</tspan></text>
<text x="744.8" y="184.8" font-size="11.5" font-weight="bold" text-anchor="start" fill="#000" textLength="57.7" lengthAdjust="spacingAndGlyphs" transform="rotate(-90 744.8 184.8)" >ε<tspan dy="2.5" font-size="7">d</tspan><tspan dy="-2.5"> = -1.34 eV</tspan></text>
<text x="633.9" y="222.2" font-size="11.5" font-weight="bold" text-anchor="start" fill="#000" textLength="30.5" lengthAdjust="spacingAndGlyphs" >MoSe<tspan dy="3.5" font-size="6.5">2</tspan></text>
<text x="664.4" y="222.2" font-size="11.5" font-weight="bold" text-anchor="start" fill="#000" textLength="48" lengthAdjust="spacingAndGlyphs" >Co-MoSe<tspan dy="3.5" font-size="6.5">2</tspan></text>
<text x="713.4" y="222.2" font-size="11.5" font-weight="bold" text-anchor="start" fill="#000" textLength="45" lengthAdjust="spacingAndGlyphs" >Ni-MoSe<tspan dy="3.5" font-size="6.5">2</tspan></text>
<rect x="797.7" y="119.6" width="20.0" height="72.21000000000001" fill="url(#g8)" />
<rect x="838" y="91.79499999999999" width="20" height="27.805000000000007" fill="url(#g9)" />
<rect x="879" y="68.97" width="19" height="50.629999999999995" fill="url(#g10)" />
<rect x="787.4" y="36.4" width="121.60000000000002" height="166.2" fill="none" stroke="#000" stroke-width="2"/>
<line x1="787.4" y1="119.6" x2="909" y2="119.6" stroke="#000" stroke-width="2" />
<line x1="783.6" y1="36.599999999999994" x2="787.4" y2="36.599999999999994" stroke="#000" stroke-width="2" />
<text x="781.5" y="40.9" font-size="12.5" font-weight="bold" text-anchor="end" fill="#000" >2</text>
<line x1="783.6" y1="78.1" x2="787.4" y2="78.1" stroke="#000" stroke-width="2" />
<text x="781.5" y="82.4" font-size="12.5" font-weight="bold" text-anchor="end" fill="#000" >1</text>
<line x1="783.6" y1="119.6" x2="787.4" y2="119.6" stroke="#000" stroke-width="2" />
<text x="781.5" y="123.9" font-size="12.5" font-weight="bold" text-anchor="end" fill="#000" >0</text>
<line x1="783.6" y1="161.1" x2="787.4" y2="161.1" stroke="#000" stroke-width="2" />
<text x="781.5" y="165.4" font-size="12.5" font-weight="bold" text-anchor="end" fill="#000" >-1</text>
<line x1="783.6" y1="202.6" x2="787.4" y2="202.6" stroke="#000" stroke-width="2" />
<text x="781.5" y="206.9" font-size="12.5" font-weight="bold" text-anchor="end" fill="#000" >-2</text>
<text x="753" y="51" font-size="27.5" font-weight="bold" text-anchor="start" fill="#000" >f</text>
<text x="769" y="149.1" font-size="13" font-weight="bold" text-anchor="start" fill="#000" textLength="65" lengthAdjust="spacingAndGlyphs" transform="rotate(-90 769 149.1)" >ΔG<tspan dy="3" font-size="8">OH</tspan><tspan dy="-3" font-size="8">-</tspan><tspan> (eV)</tspan></text>
<text x="850" y="90.7" font-size="11.5" font-weight="bold" text-anchor="middle" fill="#000" textLength="34" lengthAdjust="spacingAndGlyphs" >0.67 eV</text>
<text x="890" y="67.7" font-size="11.5" font-weight="bold" text-anchor="middle" fill="#000" textLength="34" lengthAdjust="spacingAndGlyphs" >1.22 eV</text>
<text x="807.7" y="200.2" font-size="10.5" font-weight="bold" text-anchor="middle" fill="#000" textLength="37.5" lengthAdjust="spacingAndGlyphs" >-1.74 eV</text>
<text x="793.9" y="220" font-size="11.5" font-weight="bold" text-anchor="start" fill="#000" textLength="31" lengthAdjust="spacingAndGlyphs" >MoSe<tspan dy="3.5" font-size="6.5">2</tspan></text>
<text x="827.2" y="220" font-size="11.5" font-weight="bold" text-anchor="start" fill="#000" textLength="47" lengthAdjust="spacingAndGlyphs" >Co-MoSe<tspan dy="3.5" font-size="6.5">2</tspan></text>
<text x="874.8" y="220" font-size="11.5" font-weight="bold" text-anchor="start" fill="#000" textLength="45.5" lengthAdjust="spacingAndGlyphs" >Ni-MoSe<tspan dy="3.5" font-size="6.5">2</tspan></text>
<text x="599.5" y="272" font-size="27" font-weight="bold" text-anchor="start" fill="#000" textLength="13.5" lengthAdjust="spacingAndGlyphs" >g</text>
<g clip-path="url(#gclip)">
<ellipse cx="773" cy="335" rx="130" ry="74" fill="url(#domelin)" filter="url(#soft)"/>
<g mask="url(#domemask2)" opacity="0.35"><ellipse cx="773" cy="335" rx="130" ry="74" fill="url(#domerad)" filter="url(#soft)"/></g>
<rect x="706.3" y="291.5" width="46.4" height="96" fill="url(#cyl)" opacity="0.88"/>
<ellipse cx="729.5" cy="291.5" rx="23.2" ry="4.5" fill="#e8d0e6"/>
<rect x="796.5999999999999" y="291.5" width="46.4" height="96" fill="url(#cyl)" opacity="0.88"/>
<ellipse cx="819.8" cy="291.5" rx="23.2" ry="4.5" fill="#e8d0e6"/>
<path d="M771,287 L776.5,270 L776.5,428 L771,428 Z" fill="url(#glass)" opacity="0.9"/>
<circle cx="668.0" cy="416.2" r="6.5" fill="url(#yel)"/>
<circle cx="679.7" cy="419.0" r="6.5" fill="url(#yel)"/>
<circle cx="691.3" cy="421.0" r="6.5" fill="url(#yel)"/>
<circle cx="703.0" cy="422.5" r="6.5" fill="url(#yel)"/>
<circle cx="714.7" cy="423.6" r="6.5" fill="url(#yel)"/>
<circle cx="726.3" cy="424.5" r="6.5" fill="url(#yel)"/>
<circle cx="738.0" cy="425.2" r="6.5" fill="url(#yel)"/>
<circle cx="749.7" cy="425.6" r="6.5" fill="url(#yel)"/>
<circle cx="761.3" cy="425.9" r="6.5" fill="url(#yel)"/>
<circle cx="773.0" cy="426.0" r="6.5" fill="url(#yel)"/>
<circle cx="784.7" cy="425.9" r="6.5" fill="url(#yel)"/>
<circle cx="796.3" cy="425.6" r="6.5" fill="url(#yel)"/>
<circle cx="808.0" cy="425.2" r="6.5" fill="url(#yel)"/>
<circle cx="819.7" cy="424.5" r="6.5" fill="url(#yel)"/>
<circle cx="831.3" cy="423.6" r="6.5" fill="url(#yel)"/>
<circle cx="843.0" cy="422.5" r="6.5" fill="url(#yel)"/>
<circle cx="854.7" cy="421.0" r="6.5" fill="url(#yel)"/>
<circle cx="866.3" cy="419.0" r="6.5" fill="url(#yel)"/>
<circle cx="878.0" cy="416.2" r="6.5" fill="url(#yel)"/>
<path d="M646,399 C652,392 662,387 678,382 C705,378 740,376 775,376 C815,376 852,378 872,383 C888,387 898,392 902,398 C880,412 840,418 773,419 C700,418 662,411 646,399 Z" fill="#e8dc20"/>
<circle cx="712.0" cy="381" r="5.2" fill="url(#yel)" opacity="0.35"/>
<circle cx="723.0" cy="381" r="5.2" fill="url(#yel)" opacity="0.35"/>
<circle cx="734.0" cy="381" r="5.2" fill="url(#yel)" opacity="0.35"/>
<circle cx="745.0" cy="381" r="5.2" fill="url(#yel)" opacity="0.35"/>
<circle cx="756.0" cy="381" r="5.2" fill="url(#yel)" opacity="0.35"/>
<circle cx="767.0" cy="381" r="5.2" fill="url(#yel)" opacity="0.35"/>
<circle cx="778.0" cy="381" r="5.2" fill="url(#yel)" opacity="0.35"/>
<circle cx="789.0" cy="381" r="5.2" fill="url(#yel)" opacity="0.35"/>
<circle cx="800.0" cy="381" r="5.2" fill="url(#yel)" opacity="0.35"/>
<circle cx="811.0" cy="381" r="5.2" fill="url(#yel)" opacity="0.35"/>
<circle cx="822.0" cy="381" r="5.2" fill="url(#yel)" opacity="0.35"/>
<circle cx="833.0" cy="381" r="5.2" fill="url(#yel)" opacity="0.35"/>
<circle cx="684.0" cy="386.5" r="5.2" fill="url(#yel)" opacity="0.35"/>
<circle cx="695.5" cy="386.5" r="5.2" fill="url(#yel)" opacity="0.35"/>
<circle cx="707.0" cy="386.5" r="5.2" fill="url(#yel)" opacity="0.35"/>
<circle cx="718.5" cy="386.5" r="5.2" fill="url(#yel)" opacity="0.35"/>
<circle cx="730.0" cy="386.5" r="5.2" fill="url(#yel)" opacity="0.35"/>
<circle cx="741.5" cy="386.5" r="5.2" fill="url(#yel)" opacity="0.35"/>
<circle cx="753.0" cy="386.5" r="5.2" fill="url(#yel)" opacity="0.35"/>
<circle cx="764.5" cy="386.5" r="5.2" fill="url(#yel)" opacity="0.35"/>
<circle cx="776.0" cy="386.5" r="5.2" fill="url(#yel)" opacity="0.35"/>
<circle cx="787.5" cy="386.5" r="5.2" fill="url(#yel)" opacity="0.35"/>
<circle cx="799.0" cy="386.5" r="5.2" fill="url(#yel)" opacity="0.35"/>
<circle cx="810.5" cy="386.5" r="5.2" fill="url(#yel)" opacity="0.35"/>
<circle cx="822.0" cy="386.5" r="5.2" fill="url(#yel)" opacity="0.35"/>
<circle cx="833.5" cy="386.5" r="5.2" fill="url(#yel)" opacity="0.35"/>
<circle cx="845.0" cy="386.5" r="5.2" fill="url(#yel)" opacity="0.35"/>
<circle cx="856.5" cy="386.5" r="5.2" fill="url(#yel)" opacity="0.35"/>
<circle cx="868.0" cy="386.5" r="5.2" fill="url(#yel)" opacity="0.35"/>
<circle cx="664.0" cy="392.5" r="5.2" fill="url(#yel)" opacity="0.35"/>
<circle cx="676.0" cy="392.5" r="5.2" fill="url(#yel)" opacity="0.35"/>
<circle cx="688.0" cy="392.5" r="5.2" fill="url(#yel)" opacity="0.35"/>
<circle cx="700.0" cy="392.5" r="5.2" fill="url(#yel)" opacity="0.35"/>
<circle cx="712.0" cy="392.5" r="5.2" fill="url(#yel)" opacity="0.35"/>
<circle cx="724.0" cy="392.5" r="5.2" fill="url(#yel)" opacity="0.35"/>
<circle cx="736.0" cy="392.5" r="5.2" fill="url(#yel)" opacity="0.35"/>
<circle cx="748.0" cy="392.5" r="5.2" fill="url(#yel)" opacity="0.35"/>
<circle cx="760.0" cy="392.5" r="5.2" fill="url(#yel)" opacity="0.35"/>
<circle cx="772.0" cy="392.5" r="5.2" fill="url(#yel)" opacity="0.35"/>
<circle cx="784.0" cy="392.5" r="5.2" fill="url(#yel)" opacity="0.35"/>
<circle cx="796.0" cy="392.5" r="5.2" fill="url(#yel)" opacity="0.35"/>
<circle cx="808.0" cy="392.5" r="5.2" fill="url(#yel)" opacity="0.35"/>
<circle cx="820.0" cy="392.5" r="5.2" fill="url(#yel)" opacity="0.35"/>
<circle cx="832.0" cy="392.5" r="5.2" fill="url(#yel)" opacity="0.35"/>
<circle cx="844.0" cy="392.5" r="5.2" fill="url(#yel)" opacity="0.35"/>
<circle cx="856.0" cy="392.5" r="5.2" fill="url(#yel)" opacity="0.35"/>
<circle cx="868.0" cy="392.5" r="5.2" fill="url(#yel)" opacity="0.35"/>
<circle cx="880.0" cy="392.5" r="5.2" fill="url(#yel)" opacity="0.35"/>
<circle cx="668.0" cy="399" r="5.2" fill="url(#yel)" opacity="0.35"/>
<circle cx="680.5" cy="399" r="5.2" fill="url(#yel)" opacity="0.35"/>
<circle cx="693.0" cy="399" r="5.2" fill="url(#yel)" opacity="0.35"/>
<circle cx="705.5" cy="399" r="5.2" fill="url(#yel)" opacity="0.35"/>
<circle cx="718.0" cy="399" r="5.2" fill="url(#yel)" opacity="0.35"/>
<circle cx="730.5" cy="399" r="5.2" fill="url(#yel)" opacity="0.35"/>
<circle cx="743.0" cy="399" r="5.2" fill="url(#yel)" opacity="0.35"/>
<circle cx="755.5" cy="399" r="5.2" fill="url(#yel)" opacity="0.35"/>
<circle cx="768.0" cy="399" r="5.2" fill="url(#yel)" opacity="0.35"/>
<circle cx="780.5" cy="399" r="5.2" fill="url(#yel)" opacity="0.35"/>
<circle cx="793.0" cy="399" r="5.2" fill="url(#yel)" opacity="0.35"/>
<circle cx="805.5" cy="399" r="5.2" fill="url(#yel)" opacity="0.35"/>
<circle cx="818.0" cy="399" r="5.2" fill="url(#yel)" opacity="0.35"/>
<circle cx="830.5" cy="399" r="5.2" fill="url(#yel)" opacity="0.35"/>
<circle cx="843.0" cy="399" r="5.2" fill="url(#yel)" opacity="0.35"/>
<circle cx="855.5" cy="399" r="5.2" fill="url(#yel)" opacity="0.35"/>
<circle cx="868.0" cy="399" r="5.2" fill="url(#yel)" opacity="0.35"/>
<circle cx="880.5" cy="399" r="5.2" fill="url(#yel)" opacity="0.35"/>
<circle cx="700.0" cy="405" r="5.2" fill="url(#yel)" opacity="0.35"/>
<circle cx="713.0" cy="405" r="5.2" fill="url(#yel)" opacity="0.35"/>
<circle cx="726.0" cy="405" r="5.2" fill="url(#yel)" opacity="0.35"/>
<circle cx="739.0" cy="405" r="5.2" fill="url(#yel)" opacity="0.35"/>
<circle cx="752.0" cy="405" r="5.2" fill="url(#yel)" opacity="0.35"/>
<circle cx="765.0" cy="405" r="5.2" fill="url(#yel)" opacity="0.35"/>
<circle cx="778.0" cy="405" r="5.2" fill="url(#yel)" opacity="0.35"/>
<circle cx="791.0" cy="405" r="5.2" fill="url(#yel)" opacity="0.35"/>
<circle cx="804.0" cy="405" r="5.2" fill="url(#yel)" opacity="0.35"/>
<circle cx="817.0" cy="405" r="5.2" fill="url(#yel)" opacity="0.35"/>
<circle cx="830.0" cy="405" r="5.2" fill="url(#yel)" opacity="0.35"/>
<circle cx="843.0" cy="405" r="5.2" fill="url(#yel)" opacity="0.35"/>
<ellipse cx="773" cy="392" rx="80" ry="13" fill="#ffffff" opacity="0.22"/>
<circle cx="657.0" cy="395.6" r="6.3" fill="url(#yel)"/>
<circle cx="669.5" cy="399.5" r="6.8" fill="url(#yel)"/>
<circle cx="683.2" cy="402.2" r="7.4" fill="url(#yel)"/>
<circle cx="698.5" cy="404.3" r="8.0" fill="url(#yel)"/>
<circle cx="715.2" cy="405.9" r="8.6" fill="url(#yel)"/>
<circle cx="733.5" cy="407.0" r="9.1" fill="url(#yel)"/>
<circle cx="753.0" cy="407.8" r="9.4" fill="url(#yel)"/>
<circle cx="773.0" cy="408.0" r="9.5" fill="url(#yel)"/>
<circle cx="793.0" cy="407.8" r="9.4" fill="url(#yel)"/>
<circle cx="812.5" cy="407.0" r="9.1" fill="url(#yel)"/>
<circle cx="830.8" cy="405.9" r="8.6" fill="url(#yel)"/>
<circle cx="847.5" cy="404.3" r="8.0" fill="url(#yel)"/>
<circle cx="862.8" cy="402.2" r="7.4" fill="url(#yel)"/>
<circle cx="876.5" cy="399.5" r="6.8" fill="url(#yel)"/>
<circle cx="889.0" cy="395.6" r="6.3" fill="url(#yel)"/>
<path d="M651.0,390.5 L655.0,395.1 L659.0,396.9 L663.0,398.3 L667.0,399.4 L671.0,400.4 L675.0,401.2 L679.0,402.0 L683.0,402.7 L687.0,403.3 L691.0,403.8 L695.0,404.3 L699.0,404.8 L703.0,405.2 L707.0,405.6 L711.0,406.0 L715.0,406.3 L719.0,406.6 L723.0,406.9 L727.0,407.2 L731.0,407.4 L735.0,407.6 L739.0,407.8 L743.0,407.9 L747.0,408.1 L751.0,408.2 L755.0,408.3 L759.0,408.4 L763.0,408.4 L767.0,408.5 L771.0,408.5 L775.0,408.5 L779.0,408.5 L783.0,408.4 L787.0,408.4 L791.0,408.3 L795.0,408.2 L799.0,408.1 L803.0,407.9 L807.0,407.8 L811.0,407.6 L815.0,407.4 L819.0,407.2 L823.0,406.9 L827.0,406.6 L831.0,406.3 L835.0,406.0 L839.0,405.6 L843.0,405.2 L847.0,404.8 L851.0,404.3 L855.0,403.8 L859.0,403.3 L863.0,402.7 L867.0,402.0 L871.0,401.2 L875.0,400.4 L879.0,399.4 L883.0,398.3 L887.0,396.9 L891.0,395.1 L895.0,390.5 L895.0,407.5 L891.0,412.1 L887.0,413.9 L883.0,415.3 L879.0,416.4 L875.0,417.4 L871.0,418.2 L867.0,419.0 L863.0,419.7 L859.0,420.3 L855.0,420.8 L851.0,421.3 L847.0,421.8 L843.0,422.2 L839.0,422.6 L835.0,423.0 L831.0,423.3 L827.0,423.6 L823.0,423.9 L819.0,424.2 L815.0,424.4 L811.0,424.6 L807.0,424.8 L803.0,424.9 L799.0,425.1 L795.0,425.2 L791.0,425.3 L787.0,425.4 L783.0,425.4 L779.0,425.5 L775.0,425.5 L771.0,425.5 L767.0,425.5 L763.0,425.4 L759.0,425.4 L755.0,425.3 L751.0,425.2 L747.0,425.1 L743.0,424.9 L739.0,424.8 L735.0,424.6 L731.0,424.4 L727.0,424.2 L723.0,423.9 L719.0,423.6 L715.0,423.3 L711.0,423.0 L707.0,422.6 L703.0,422.2 L699.0,421.8 L695.0,421.3 L691.0,420.8 L687.0,420.3 L683.0,419.7 L679.0,419.0 L675.0,418.2 L671.0,417.4 L667.0,416.4 L663.0,415.3 L659.0,413.9 L655.0,412.1 L651.0,407.5 Z" fill="#256b4a"/>
<circle cx="651.0" cy="399.5" r="9.0" fill="url(#grn)"/>
<circle cx="663.0" cy="407.3" r="9.2" fill="url(#grn)"/>
<circle cx="676.0" cy="410.4" r="9.4" fill="url(#grn)"/>
<circle cx="690.5" cy="412.8" r="9.6" fill="url(#grn)"/>
<circle cx="706.5" cy="414.6" r="9.8" fill="url(#grn)"/>
<circle cx="724.0" cy="416.0" r="10.0" fill="url(#grn)"/>
<circle cx="743.0" cy="416.9" r="10.1" fill="url(#grn)"/>
<circle cx="763.0" cy="417.4" r="10.2" fill="url(#grn)"/>
<circle cx="783.0" cy="417.4" r="10.2" fill="url(#grn)"/>
<circle cx="803.0" cy="416.9" r="10.1" fill="url(#grn)"/>
<circle cx="822.0" cy="416.0" r="10.0" fill="url(#grn)"/>
<circle cx="839.5" cy="414.6" r="9.8" fill="url(#grn)"/>
<circle cx="855.5" cy="412.8" r="9.6" fill="url(#grn)"/>
<circle cx="870.0" cy="410.4" r="9.4" fill="url(#grn)"/>
<circle cx="883.0" cy="407.3" r="9.2" fill="url(#grn)"/>
<circle cx="895.0" cy="399.5" r="9.0" fill="url(#grn)"/>
<path d="M690,404 C730,412 815,412 858,404 L858,409 C815,416 730,416 690,409 Z" fill="#ffffff" opacity="0.22"/>
<ellipse cx="730.7" cy="394.7" rx="6" ry="3.6" fill="url(#cob)"/>
<ellipse cx="820.8" cy="394.7" rx="6" ry="3.6" fill="url(#nip)"/>
<rect x="729.7" y="374.0" width="2.0" height="1.25" fill="#111"/>
<rect x="729.2" y="376.4" width="3.0" height="1.25" fill="#111"/>
<rect x="728.7" y="378.7" width="4.0" height="1.25" fill="#111"/>
<rect x="728.2" y="381.1" width="5.0" height="1.25" fill="#111"/>
<rect x="727.7" y="383.4" width="6.0" height="1.25" fill="#111"/>
<rect x="727.2" y="385.8" width="7.0" height="1.25" fill="#111"/>
<rect x="726.7" y="388.1" width="8.0" height="1.25" fill="#111"/>
<rect x="820.0" y="374.0" width="2.0" height="1.25" fill="#111"/>
<rect x="819.5" y="376.4" width="3.0" height="1.25" fill="#111"/>
<rect x="819.0" y="378.7" width="4.0" height="1.25" fill="#111"/>
<rect x="818.5" y="381.1" width="5.0" height="1.25" fill="#111"/>
<rect x="818.0" y="383.4" width="6.0" height="1.25" fill="#111"/>
<rect x="817.5" y="385.8" width="7.0" height="1.25" fill="#111"/>
<rect x="817.0" y="388.1" width="8.0" height="1.25" fill="#111"/>
<path d="M697,382.5 C700,390 706,393 713,394" stroke="#555a62" stroke-width="2.8" fill="none" stroke-linecap="round"/>
<polygon points="-1,-4.2 6,0 -1,4.2" fill="#555a62" transform="translate(716 394.5) rotate(5)"/>
<path d="M743,395.5 C750,395.5 757,393 762,389" stroke="#555a62" stroke-width="2.8" fill="none" stroke-linecap="round"/>
<polygon points="-1,-4.2 6,0 -1,4.2" fill="#555a62" transform="translate(765.4 387) rotate(-35)"/>
<path d="M811.3,395.5 C804,395.5 797,393 791,389" stroke="#555a62" stroke-width="2.8" fill="none" stroke-linecap="round"/>
<polygon points="-1,-4.2 6,0 -1,4.2" fill="#555a62" transform="translate(787.9 387) rotate(215)"/>
<path d="M853.8,382.5 C851,390 845,393 837,394" stroke="#555a62" stroke-width="2.8" fill="none" stroke-linecap="round"/>
<polygon points="-1,-4.2 6,0 -1,4.2" fill="#555a62" transform="translate(833.8 394.5) rotate(175)"/>
<circle cx="728.6" cy="314.2" r="3.4" fill="url(#gry)"/>
<circle cx="722" cy="312.6" r="5" fill="url(#red)"/>
<circle cx="821.1" cy="314.1" r="3.4" fill="url(#gry)"/>
<circle cx="828.4" cy="312.6" r="5" fill="url(#red)"/>
<circle cx="735.2" cy="362" r="3.4" fill="url(#gry)"/>
<circle cx="731.9" cy="367.1" r="5" fill="url(#red)"/>
<circle cx="816.3" cy="362" r="3.4" fill="url(#gry)"/>
<circle cx="819.6" cy="366.3" r="5" fill="url(#red)"/>
<circle cx="680" cy="387" r="3.3" fill="url(#gry)"/><circle cx="690" cy="382" r="3.3" fill="url(#gry)"/><circle cx="685" cy="387.5" r="5" fill="url(#red)"/>
<circle cx="856" cy="382" r="3.3" fill="url(#gry)"/><circle cx="866" cy="387" r="3.3" fill="url(#gry)"/><circle cx="861" cy="387.5" r="5" fill="url(#red)"/>
<circle cx="773.2" cy="379" r="3.5" fill="url(#gry)"/><circle cx="779.3" cy="379" r="3.5" fill="url(#gry)"/>
<path d="M716,313 C708,313 701,311 697,307" stroke="#d030c8" stroke-width="2.4" fill="none"/>
<polygon points="0,-3.5 6,0 0,3.5" fill="#d030c8" transform="translate(695 305) rotate(-145)"/>
<path d="M835,313 C843,313 849,311 852,307" stroke="#d030c8" stroke-width="2.4" fill="none"/>
<polygon points="0,-3.5 6,0 0,3.5" fill="#d030c8" transform="translate(855 305) rotate(-35)"/>
<path d="M734,356 C751,349 752,326 727,321" stroke="url(#arcL)" stroke-width="3.6" fill="none"/>
<polygon points="0,-4 7,0 0,4" fill="#e040d0" transform="translate(722 320.5) rotate(185)"/>
<path d="M815,356 C798,349 797,326 823,321" stroke="url(#arcL)" stroke-width="3.6" fill="none"/>
<polygon points="0,-4 7,0 0,4" fill="#e040d0" transform="translate(828 320.5) rotate(-5)"/>
</g>
<rect x="636.6" y="258.8" width="272.0" height="189.0" fill="none" stroke="#000" stroke-width="1.8"/>
<text x="717.4" y="274" font-size="13.5" font-weight="bold" text-anchor="start" fill="#000" textLength="63" lengthAdjust="spacingAndGlyphs" >OH<tspan dy="2.5" font-size="9">ad</tspan><tspan dy="-2.5"> + e</tspan><tspan dy="-4" font-size="7">−</tspan></text>
<path d="M787.5,268.8 L799,268.8" stroke="#111" stroke-width="1.2"/><polygon points="785.8,268.8 789.5,266.6 789.5,271" fill="#111"/><polygon points="800.7,268.8 797,266.6 797,271" fill="#111"/>
<text x="805" y="274" font-size="13.5" font-weight="bold" text-anchor="start" fill="#000" textLength="30" lengthAdjust="spacingAndGlyphs" ><tspan font-style="italic">OH</tspan><tspan dy="-4" font-size="7">−</tspan></text>
<text x="715" y="285" font-size="8" font-weight="bold" text-anchor="start" fill="#000" textLength="30" lengthAdjust="spacingAndGlyphs" >sluggish</text>
<text x="799" y="284.6" font-size="8" font-weight="bold" text-anchor="start" fill="#000" textLength="42.5" lengthAdjust="spacingAndGlyphs" >accelerated</text>
<text x="725.3" y="308.7" font-size="8" font-weight="bold" text-anchor="start" fill="#000" textLength="15.7" lengthAdjust="spacingAndGlyphs" >OH<tspan dy="-3" font-size="5">-</tspan></text>
<text x="809.6" y="308.6" font-size="8" font-weight="bold" text-anchor="start" fill="#000" textLength="16.6" lengthAdjust="spacingAndGlyphs" >OH<tspan dy="-3" font-size="5">-</tspan></text>
<text x="683" y="316.4" font-size="7.5" font-weight="bold" text-anchor="start" fill="#000" textLength="15" lengthAdjust="spacingAndGlyphs" >slow</text>
<text x="849.5" y="316.4" font-size="7.5" font-weight="bold" text-anchor="start" fill="#000" textLength="13.3" lengthAdjust="spacingAndGlyphs" >fast</text>
<text x="735" y="342" font-size="8" font-weight="bold" text-anchor="start" fill="#000" >e<tspan dy="-3" font-size="5">-</tspan></text>
<text x="804" y="342" font-size="8" font-weight="bold" text-anchor="start" fill="#000" >e<tspan dy="-3" font-size="5">-</tspan></text>
<text x="707.6" y="360.5" font-size="8" font-weight="bold" text-anchor="start" fill="#000" textLength="17.7" lengthAdjust="spacingAndGlyphs" >OH<tspan dy="2" font-size="5.5">ad</tspan></text>
<text x="821.1" y="359.7" font-size="8" font-weight="bold" text-anchor="start" fill="#000" textLength="20.5" lengthAdjust="spacingAndGlyphs" >OH<tspan dy="2" font-size="5.5">ad</tspan></text>
<text x="664" y="384.5" font-size="8" font-weight="bold" text-anchor="start" fill="#000" textLength="16.7" lengthAdjust="spacingAndGlyphs" >H<tspan dy="2" font-size="5.5">2</tspan><tspan dy="-2">O</tspan></text>
<text x="866.4" y="384.5" font-size="8" font-weight="bold" text-anchor="start" fill="#000" textLength="16.6" lengthAdjust="spacingAndGlyphs" >H<tspan dy="2" font-size="5.5">2</tspan><tspan dy="-2">O</tspan></text>
<text x="701" y="382.5" font-size="8" font-weight="bold" text-anchor="start" fill="#000" textLength="23.2" lengthAdjust="spacingAndGlyphs" >strong</text>
<text x="826.8" y="383" font-size="8" font-weight="bold" text-anchor="start" fill="#000" textLength="19.2" lengthAdjust="spacingAndGlyphs" >weak</text>
<text x="775" y="389.5" font-size="8" font-weight="bold" text-anchor="start" fill="#000" textLength="9.5" lengthAdjust="spacingAndGlyphs" >H<tspan dy="2" font-size="5.5">2</tspan></text>
<text x="719.8" y="444" font-size="8.5" font-weight="bold" text-anchor="start" fill="#000" textLength="12.6" lengthAdjust="spacingAndGlyphs" >Co</text>
<circle cx="739.4" cy="441" r="4.8" fill="url(#cob)"/>
<text x="749" y="444" font-size="8.5" font-weight="bold" text-anchor="start" fill="#000" textLength="10" lengthAdjust="spacingAndGlyphs" >Ni</text>
<circle cx="765" cy="441" r="4.8" fill="url(#nip)"/>
<text x="775.7" y="444" font-size="8.5" font-weight="bold" text-anchor="start" fill="#000" textLength="11" lengthAdjust="spacingAndGlyphs" >Se</text>
<circle cx="792" cy="441" r="4.8" fill="url(#yel)"/>
<text x="803.4" y="444" font-size="8.5" font-weight="bold" text-anchor="start" fill="#000" textLength="14.4" lengthAdjust="spacingAndGlyphs" >Mo</text>
<circle cx="823.8" cy="441" r="4.8" fill="url(#grn)"/>
</svg>
</body></html>
